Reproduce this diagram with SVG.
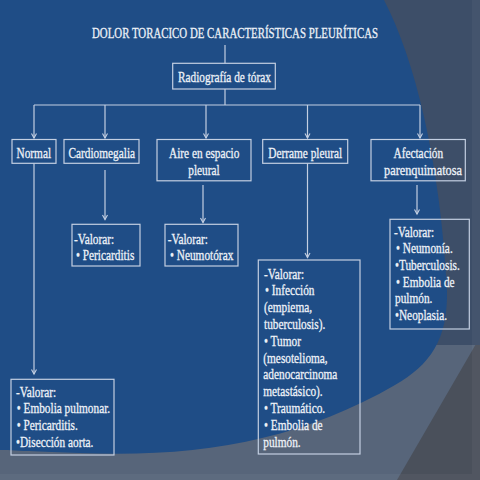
<svg xmlns="http://www.w3.org/2000/svg" width="480" height="480" viewBox="0 0 480 480">
<style>
.box{fill:none;stroke:#c3cfe2;stroke-width:1.2}
.c{fill:none;stroke:#c3cfe2;stroke-width:1.2}
.t{font-family:"Liberation Serif","Times New Roman",serif;font-size:14.5px;fill:#eef2f8;stroke:#eef2f8;stroke-width:0.3}
</style>
<defs>
<marker id="arr" viewBox="-6 -4 8 8" markerWidth="8" markerHeight="8" refX="0" refY="0" orient="auto" markerUnits="userSpaceOnUse">
<path d="M-4.5,-2.5 L0,0 L-4.5,2.5" fill="none" stroke="#c3cfe2" stroke-width="1.1"/>
</marker>
</defs>
<g id="background">
<rect x="0" y="0" width="480" height="480" fill="#4a505b"/>
<polygon points="0,0 480,0 480,337 397,480 0,480" fill="#57657a"/>
<rect x="380" y="0" width="100" height="345" fill="#3d4e68"/>
<path d="M0,0 H384 C415,60 440,160 447,290 C448,340 430,365 395,385 C300,440 200,458 80,453 C40,452 10,450 0,450 Z" fill="#1f4d86"/>
<rect x="472" y="0" width="8" height="480" fill="#ffffff" fill-opacity="0.04"/>
<rect x="0" y="474" width="472" height="6" fill="#ffffff" fill-opacity="0.04"/>
</g>
<g id="connectors">
<line class="c" x1="225" y1="45" x2="225" y2="63.3"/>
<line class="c" x1="225" y1="89" x2="225" y2="105"/>
<line class="c" x1="34" y1="105" x2="420" y2="105"/>
<line class="c" x1="34" y1="105" x2="34" y2="138" marker-end="url(#arr)"/>
<line class="c" x1="105" y1="105" x2="105" y2="138" marker-end="url(#arr)"/>
<line class="c" x1="206" y1="105" x2="206" y2="138" marker-end="url(#arr)"/>
<line class="c" x1="307.5" y1="105" x2="307.5" y2="138" marker-end="url(#arr)"/>
<line class="c" x1="420" y1="105" x2="420" y2="138" marker-end="url(#arr)"/>
<line class="c" x1="34" y1="163.3" x2="34" y2="374" marker-end="url(#arr)"/>
<line class="c" x1="105" y1="170" x2="105" y2="219.5" marker-end="url(#arr)"/>
<line class="c" x1="203" y1="185" x2="203" y2="222.5" marker-end="url(#arr)"/>
<line class="c" x1="307.5" y1="163.3" x2="307.5" y2="257.5" marker-end="url(#arr)"/>
<line class="c" x1="417" y1="185" x2="417" y2="214" marker-end="url(#arr)"/>
</g>
<g id="title">
<text class="t" transform="translate(92,38) scale(0.78,1)" textLength="366.7" lengthAdjust="spacingAndGlyphs">DOLOR TORACICO DE CARACTERÍSTICAS PLEURÍTICAS</text>
</g>
<g id="radiografia">
<rect class="box" x="172.7" y="63.3" width="102.6" height="25.7"/>
<text class="t" transform="translate(178,81.5) scale(0.78,1)">Radiografía de tórax</text>
</g>
<g id="normal">
<rect class="box" x="12" y="139.5" width="44" height="23.8"/>
<text class="t" transform="translate(16.5,157.5) scale(0.78,1)">Normal</text>
</g>
<g id="cardiomegalia">
<rect class="box" x="64" y="139.5" width="75" height="23.8"/>
<text class="t" transform="translate(68.5,157.5) scale(0.78,1)">Cardiomegalia</text>
</g>
<g id="aire">
<rect class="box" x="157" y="139.5" width="94" height="41.3"/>
<text class="t" transform="translate(169,157.5) scale(0.78,1)">Aire en espacio</text>
<text class="t" transform="translate(188.3,175) scale(0.78,1)">pleural</text>
</g>
<g id="derrame">
<rect class="box" x="262.7" y="139.5" width="85" height="23.8"/>
<text class="t" transform="translate(268.3,157.5) scale(0.78,1)">Derrame pleural</text>
</g>
<g id="afectacion">
<rect class="box" x="371" y="139.5" width="94.3" height="41.3"/>
<text class="t" transform="translate(393.5,157.5) scale(0.78,1)">Afectación</text>
<text class="t" transform="translate(384,175) scale(0.78,1)" textLength="100" lengthAdjust="spacingAndGlyphs">parenquimatosa</text>
</g>
<g id="valorar-cardio">
<rect class="box" x="72" y="224.3" width="68" height="41.7"/>
<text class="t" transform="translate(74,243.5) scale(0.78,1)">-Valorar:</text>
<text class="t" transform="translate(76,259.5) scale(0.78,1)">• Pericarditis</text>
</g>
<g id="valorar-aire">
<rect class="box" x="165" y="224.3" width="73" height="41.7"/>
<text class="t" transform="translate(167.7,243.5) scale(0.78,1)">-Valorar:</text>
<text class="t" transform="translate(170,259.5) scale(0.78,1)">• Neumotórax</text>
</g>
<g id="valorar-derrame">
<rect class="box" x="258.3" y="260" width="101.7" height="194"/>
<text class="t" transform="translate(264,278.5) scale(0.78,1)">-Valorar:</text>
<text class="t" transform="translate(265,295.3) scale(0.78,1)">• Infección</text>
<text class="t" transform="translate(264,312.1) scale(0.78,1)">(empiema,</text>
<text class="t" transform="translate(264,328.9) scale(0.78,1)">tuberculosis).</text>
<text class="t" transform="translate(264,345.7) scale(0.78,1)">• Tumor</text>
<text class="t" transform="translate(263.3,362.5) scale(0.78,1)">(mesotelioma,</text>
<text class="t" transform="translate(263.3,379.3) scale(0.78,1)">adenocarcinoma</text>
<text class="t" transform="translate(263.3,396.1) scale(0.78,1)">metastásico).</text>
<text class="t" transform="translate(264,412.9) scale(0.78,1)">• Traumático.</text>
<text class="t" transform="translate(264,429.7) scale(0.78,1)">• Embolia de</text>
<text class="t" transform="translate(263.3,446.5) scale(0.78,1)">pulmón.</text>
</g>
<g id="valorar-normal">
<rect class="box" x="11" y="379.3" width="103" height="75.7"/>
<text class="t" transform="translate(16,396.7) scale(0.78,1)">-Valorar:</text>
<text class="t" transform="translate(16.7,413.3) scale(0.78,1)">• Embolia pulmonar.</text>
<text class="t" transform="translate(16.7,430) scale(0.78,1)">• Pericarditis.</text>
<text class="t" transform="translate(16,446.7) scale(0.78,1)">•Disección aorta.</text>
</g>
<g id="valorar-afectacion">
<rect class="box" x="390" y="219.3" width="79.3" height="109.7"/>
<text class="t" transform="translate(394,236.7) scale(0.78,1)">-Valorar:</text>
<text class="t" transform="translate(396,253.3) scale(0.78,1)">• Neumonía.</text>
<text class="t" transform="translate(395,270) scale(0.78,1)">•Tuberculosis.</text>
<text class="t" transform="translate(396,286.7) scale(0.78,1)">• Embolia de</text>
<text class="t" transform="translate(395,303.3) scale(0.78,1)">pulmón.</text>
<text class="t" transform="translate(395,320) scale(0.78,1)">•Neoplasia.</text>
</g>
</svg>
